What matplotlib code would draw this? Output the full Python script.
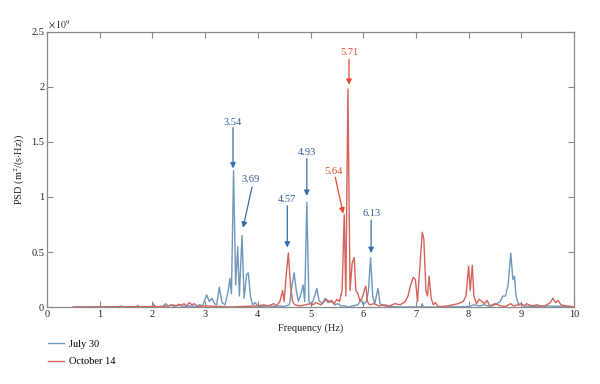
import matplotlib
matplotlib.use("Agg")
import matplotlib.pyplot as plt

plt.rcParams['font.family'] = ['Liberation Serif', 'DejaVu Serif']
plt.rcParams['mathtext.fontset'] = 'stix'

# July 30 spectrum (frequency Hz, PSD x1e9)
july_f = [0.5, 1.35, 1.4, 1.45, 1.7, 1.72, 1.75, 2.0, 2.02, 2.05, 2.2, 2.25, 2.3, 2.35, 2.4,
          2.5, 2.6, 2.7, 2.8, 2.9, 2.95, 3.03, 3.08, 3.13, 3.18, 3.22, 3.27, 3.32, 3.38,
          3.44, 3.47, 3.50, 3.54, 3.58, 3.62, 3.65, 3.70, 3.74, 3.79, 3.82, 3.86, 3.9,
          3.95, 4.0, 4.05, 4.2, 4.3, 4.4, 4.5, 4.6, 4.65, 4.69, 4.73, 4.77, 4.82, 4.86,
          4.89, 4.93, 4.97, 5.02, 5.08, 5.12, 5.16, 5.22, 5.28, 5.33, 5.4, 5.46, 5.52,
          5.58, 5.65, 5.72, 5.8, 5.9, 5.96, 6.0, 6.06, 6.1, 6.14, 6.18, 6.22, 6.28, 6.32,
          6.4, 6.5, 6.7, 7.0, 7.1, 7.12, 7.14, 7.5, 8.0, 8.1, 8.2, 8.3, 8.4, 8.5, 8.6,
          8.65, 8.7, 8.75, 8.8, 8.84, 8.87, 8.9, 8.95, 9.0, 9.05, 9.2, 9.5, 9.8, 10.0]
july_v = [0.0, 0.0, 0.01, 0.0, 0.0, 0.015, 0.0, 0.0, 0.03, 0.0, 0.005, 0.03, 0.01, 0.02, 0.005,
          0.015, 0.005, 0.01, 0.005, 0.02, 0.01, 0.11, 0.05, 0.08, 0.03, 0.02, 0.18, 0.04, 0.02,
          0.15, 0.26, 0.12, 1.24, 0.2, 0.55, 0.1, 0.65, 0.08, 0.3, 0.31, 0.1, 0.02,
          0.04, 0.01, 0.005, 0.01, 0.005, 0.01, 0.005, 0.02, 0.2, 0.31, 0.15, 0.05, 0.12, 0.2,
          0.05, 0.95, 0.05, 0.02, 0.1, 0.17, 0.06, 0.03, 0.08, 0.04, 0.05, 0.02, 0.03,
          0.01, 0.01, 0.0, 0.01, 0.02, 0.07, 0.02, 0.05, 0.15, 0.45, 0.1, 0.03, 0.17, 0.03,
          0.01, 0.005, 0.0, 0.0, 0.0, 0.03, 0.0, 0.0, 0.005, 0.02, 0.01, 0.02, 0.005, 0.02, 0.05,
          0.1, 0.1, 0.2, 0.49, 0.25, 0.28, 0.1, 0.02, 0.03, 0.01, 0.005, 0.01, 0.005, 0.0]

# October 14 spectrum
oct_f = [0.5, 2.2, 2.3, 2.4, 2.45, 2.5, 2.55, 2.6, 2.65, 2.7, 2.75, 2.8, 2.85, 3.0, 3.5,
         4.0, 4.1, 4.2, 4.3, 4.35, 4.42, 4.47, 4.5, 4.54, 4.58, 4.62, 4.66, 4.7, 4.8, 4.9,
         5.0, 5.05, 5.1, 5.2, 5.3, 5.35, 5.4, 5.45, 5.5, 5.55, 5.6, 5.64, 5.67, 5.71, 5.75,
         5.79, 5.83, 5.86, 5.9, 5.94, 5.98, 6.02, 6.05, 6.08, 6.12, 6.2, 6.3, 6.4, 6.5, 6.6,
         6.7, 6.8, 6.85, 6.9, 6.95, 6.99, 7.03, 7.08, 7.12, 7.15, 7.19, 7.22, 7.25, 7.29,
         7.33, 7.37, 7.42, 7.5, 7.6, 7.7, 7.8, 7.9, 7.95, 8.0, 8.03, 8.07, 8.1, 8.15, 8.2,
         8.25, 8.3, 8.35, 8.4, 8.5, 8.6, 8.7, 8.8, 8.85, 8.95, 9.0, 9.05, 9.1, 9.2, 9.3,
         9.35, 9.45, 9.55, 9.6, 9.65, 9.7, 9.75, 9.85, 9.95, 10.0]
oct_v = [0.0, 0.005, 0.01, 0.02, 0.01, 0.025, 0.015, 0.03, 0.01, 0.04, 0.02, 0.03, 0.005, 0.01, 0.0,
         0.01, 0.02, 0.01, 0.03, 0.01, 0.05, 0.15, 0.05, 0.3, 0.49, 0.2, 0.05, 0.02, 0.01, 0.02,
         0.03, 0.02, 0.04, 0.02, 0.07, 0.05, 0.06, 0.03, 0.07, 0.05, 0.15, 0.84, 0.1, 1.98, 0.15,
         0.4, 0.45, 0.15, 0.12, 0.05, 0.08, 0.15, 0.19, 0.05, 0.02, 0.03, 0.01, 0.02, 0.01, 0.03,
         0.02, 0.05, 0.1, 0.2, 0.27, 0.25, 0.05, 0.4, 0.68, 0.62, 0.15, 0.1, 0.28, 0.08,
         0.02, 0.04, 0.005, 0.005, 0.01, 0.02, 0.03, 0.05, 0.1, 0.37, 0.15, 0.38, 0.1, 0.03, 0.07,
         0.05, 0.03, 0.06, 0.01, 0.03, 0.01, 0.005, 0.03, 0.01, 0.02, 0.03, 0.01, 0.03, 0.01, 0.02,
         0.01, 0.01, 0.04, 0.08, 0.04, 0.06, 0.02, 0.01, 0.005, 0.0]

# annotations: label, text position (f, v), arrow start, arrow tip, colour
blue_txt = '#2f5b92'
red_txt = '#ea4a2e'
annots = [
    ('3.54', (3.53, 1.68), (3.53, 1.63), (3.53, 1.26), blue_txt),
    ('3.69', (3.87, 1.16), (3.89, 1.09), (3.72, 0.72), blue_txt),
    ('4.57', (4.55, 0.98), (4.56, 0.92), (4.56, 0.54), blue_txt),
    ('4.93', (4.93, 1.40), (4.93, 1.35), (4.93, 1.01), blue_txt),
    ('5.64', (5.43, 1.23), (5.47, 1.18), (5.62, 0.85), red_txt),
    ('6.13', (6.15, 0.85), (6.15, 0.79), (6.15, 0.49), blue_txt),
    ('5.71', (5.73, 2.31), (5.73, 2.25), (5.73, 2.02), red_txt),
]

fig = plt.figure(figsize=(6.0, 3.84), dpi=100)
ax = fig.add_axes([0.0783, 0.2005, 0.8784, 0.7162])

l1, = ax.plot(july_f, july_v, color='#7097bd', lw=1.0, label='July 30')
l2, = ax.plot(oct_f, oct_v, color='#d5625a', lw=1.0, label='October 14')

for lab, tp, s, t, c in annots:
    ax.annotate('', xy=t, xytext=s,
                arrowprops=dict(arrowstyle='-|>', color=c if c == red_txt else '#3a6ea8',
                                lw=0.9, mutation_scale=8, shrinkA=0, shrinkB=0))
    ax.text(tp[0], tp[1], lab, color=c, fontsize=7.5, ha='center', va='center')

ax.set_xlim(0, 10)
ax.set_ylim(0, 2.5)
ax.set_xticks(range(0, 11))
ax.set_yticks([0, 0.5, 1, 1.5, 2, 2.5])
ax.set_yticklabels(['0', '0.5', '1', '1.5', '2', '2.5'])
for sp in ax.spines.values():
    sp.set_color('#8a8a8a')
    sp.set_linewidth(0.9)
ax.tick_params(direction='in', top=True, right=True, length=4, width=0.8,
               color='#8a8a8a', labelsize=7.5, labelcolor='#222222', pad=2)

ax.set_xlabel('Frequency (Hz)', fontsize=7.5, color='#222222', labelpad=3)
ax.set_ylabel('PSD (m$^2$/(s$\\cdot$Hz))', fontsize=7.5, color='#222222', labelpad=3)

fig.text(48 / 600, 1 - 25 / 384, r'$\times\,10^9$', fontsize=7, color='#222222',
         ha='left', va='center')

fig.legend(handles=[l1, l2], loc='upper left', bbox_to_anchor=(0.08, 0.115),
           frameon=False, fontsize=7.5, handlelength=1.5, handletextpad=0.5,
           labelspacing=0.75, borderaxespad=0, borderpad=0)

fig.savefig('out.png', dpi=100)
